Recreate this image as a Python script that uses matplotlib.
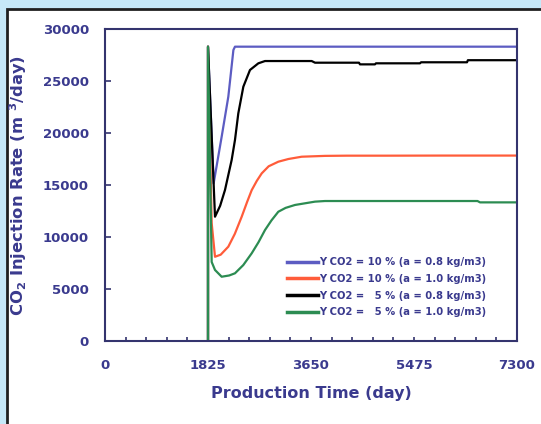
import matplotlib
matplotlib.use("Agg")
import matplotlib.pyplot as plt
from matplotlib.patches import Rectangle
from matplotlib.ticker import MultipleLocator

# (days, m3/day)
blue_days = [1825, 1825, 1925, 2067, 2185, 2275, 2303, 7300]
blue_rate = [0, 28300, 15160, 19640, 23490, 27980, 28300, 28300]

red_days = [1825, 1825, 1890, 1949, 2050, 2185, 2300, 2422, 2520, 2599, 2690,
            2777, 2900, 3071, 3250, 3485, 3898, 4287, 5000, 6000, 7300]
red_rate = [0, 28300, 11350, 8100, 8300, 9070, 10300, 11950, 13400, 14500, 15400,
            16120, 16800, 17240, 17500, 17720, 17800, 17820, 17820, 17830, 17830]

black_days = [1825, 1825, 1949, 2040, 2126, 2244, 2303, 2362, 2451, 2569, 2717,
              2835, 3662, 3721, 4500, 4518, 4784, 4800, 5581, 5600, 6414, 6430, 7300]
black_rate = [0, 28300, 11950, 13000, 14520, 17400, 19330, 21890, 24450, 26060, 26700,
              26920, 26920, 26760, 26760, 26600, 26600, 26700, 26700, 26800, 26800, 27000, 27000]

green_days = [1825, 1825, 1890, 1949, 2067, 2200, 2303, 2450, 2599, 2720, 2835,
              2950, 3071, 3200, 3366, 3721, 3898, 4000, 6600, 6645, 7300]
green_rate = [0, 28300, 7600, 6830, 6180, 6300, 6510, 7300, 8430, 9500, 10670,
              11600, 12430, 12800, 13080, 13400, 13460, 13460, 13460, 13330, 13330]

labels = ["Y CO2 = 10 % (a = 0.8 kg/m3)",
          "Y CO2 = 10 % (a = 1.0 kg/m3)",
          "Y CO2 =   5 % (a = 0.8 kg/m3)",
          "Y CO2 =   5 % (a = 1.0 kg/m3)"]

x_ticks = [0, 1825, 3650, 5475, 7300]

txt = '#3a3a8e'
spine = '#34346e'

plt.rcParams['font.family'] = ['DejaVu Sans']
plt.rcParams['font.weight'] = 'bold'
plt.rcParams['mathtext.default'] = 'bf'

fig = plt.figure(figsize=(5.41, 4.24), dpi=100, facecolor='#c6e8f8')
W, H = 541, 424
fig.patches.append(Rectangle((7 / W, -0.1), 1.2, 1.1 - 9 / H, transform=fig.transFigure,
                             facecolor='white', edgecolor='#202020', linewidth=2, zorder=-5))

ax = fig.add_axes([105 / W, 1 - 341 / H, 412 / W, 312 / H])
ax.set_facecolor('white')

ax.plot(blue_days, blue_rate, color='#5c5cc2', lw=1.6, label=labels[0])
ax.plot(red_days, red_rate, color='#ff5c3a', lw=1.6, label=labels[1])
ax.plot(black_days, black_rate, color='black', lw=1.6, label=labels[2])
ax.plot(green_days, green_rate, color='#2c8c52', lw=1.6, label=labels[3])

ax.set_xlim(0, 7300)
ax.set_ylim(0, 30000)
ax.set_xticks(x_ticks)
ax.xaxis.set_minor_locator(MultipleLocator(365))
ax.yaxis.set_major_locator(MultipleLocator(5000))

for s in ax.spines.values():
    s.set_color(spine)
    s.set_linewidth(1.5)

ax.tick_params(axis='both', which='both', direction='in', color=spine, width=1.2,
               labelcolor=txt, labelsize=9.5)
ax.tick_params(axis='y', length=4, pad=11.5)
ax.tick_params(axis='x', which='both', length=3, pad=13)
for t in ax.get_xticklabels() + ax.get_yticklabels():
    t.set_fontweight('bold')

ax.set_xlabel('Production Time (day)', fontsize=11.5, fontweight='bold', color=txt, labelpad=10)
ax.set_ylabel(r'CO$_2$ Injection Rate (m $^3$/day)', fontsize=11.8, fontweight='bold',
              color=txt, labelpad=10)

leg = ax.legend(loc='upper left', bbox_to_anchor=(0.442, 0.268), frameon=False,
                borderpad=0, borderaxespad=0, handlelength=3.1, handletextpad=0.15,
                labelspacing=0.66, prop={'size': 7.2, 'weight': 'bold'})
for t in leg.get_texts():
    t.set_color(txt)
for h in leg.legend_handles:
    h.set_linewidth(2.5)

fig.savefig('out.png', dpi=100, facecolor=fig.get_facecolor())
